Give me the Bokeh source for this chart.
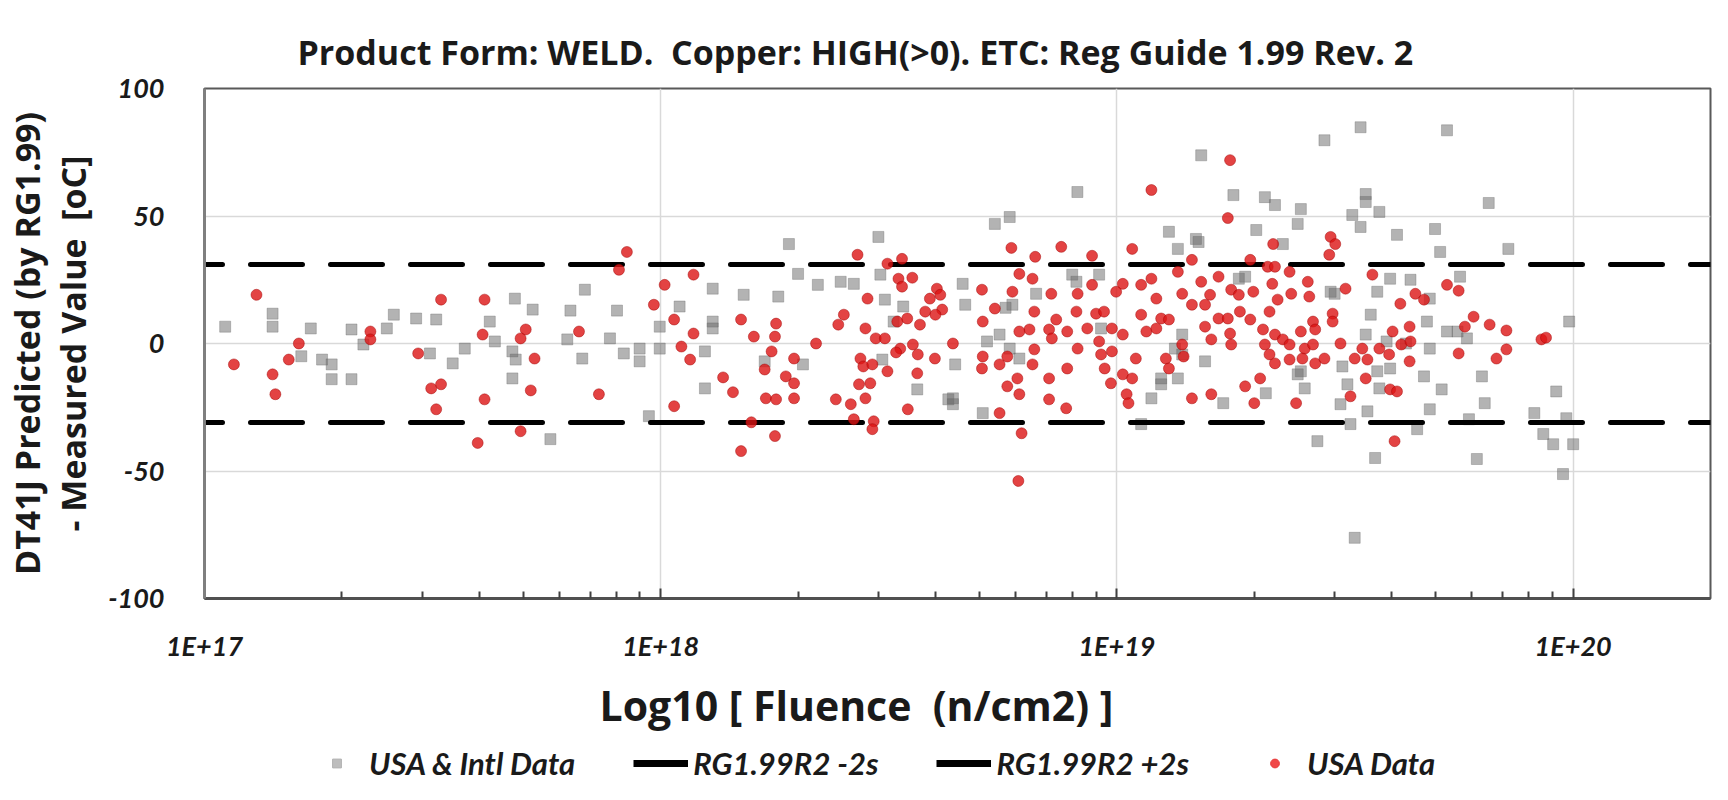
from bokeh.plotting import figure
from bokeh.layouts import column
from bokeh.models import (FixedTicker, CustomJSTickFormatter, Legend, LegendItem,
                          Title, Range1d)
from bokeh.embed import file_html
from bokeh.resources import INLINE

# ---------------- data ----------------
intl_fluence = [
    1.11e17, 1.41e17, 1.41e17, 1.71e17, 1.63e17, 1.81e17, 1.90e17, 1.90e17, 2.10e17, 2.10e17,
    2.23e17, 2.51e17, 2.60e17, 2.91e17, 3.22e17, 3.12e17, 3.50e17,
    3.72e17, 4.79e17, 5.24e17, 4.22e17, 4.33e17, 4.73e17, 4.81e17, 4.73e17, 6.82e17,
    6.34e17, 8.02e17, 6.24e17, 6.73e17, 7.74e17, 8.30e17, 8.99e17, 8.99e17, 5.73e17, 9.42e17,
    9.95e17, 9.95e17, 1.10e18, 1.25e18, 1.25e18,
    1.30e18, 1.30e18, 1.30e18, 1.52e18, 1.81e18, 1.91e18, 2.00e18, 1.69e18,
    2.05e18, 2.21e18, 2.48e18, 2.65e18, 3.00e18, 3.03e18, 3.10e18, 3.40e18, 3.24e18, 3.06e18,
    3.65e18, 4.27e18,
    8.19e18, 5.40e18, 5.82e18, 4.59e18, 4.65e18, 4.42e18, 4.37e18, 4.37e18, 5.08e18, 5.53e18,
    5.82e18, 6.11e18, 5.90e18, 7.98e18, 9.14e18, 9.23e18, 1.30e19, 1.49e19, 1.36e19, 1.36e19,
    1.19e19, 1.25e19, 1.39e19, 1.13e19, 1.53e19, 6.65e18, 5.70e18, 1.25e19, 1.34e19, 1.39e19,
    1.51e19, 5.19e18, 8.15e18,
    1.80e19, 2.11e19, 2.22e19, 2.53e19, 2.49e19, 2.85e19, 3.42e19, 5.29e19, 3.51e19,
    3.51e19, 3.28e19, 3.76e19, 3.42e19, 4.11e19, 4.98e19, 5.11e19, 2.02e19, 2.31e19,
    3.97e19, 4.40e19, 3.60e19, 3.51e19, 4.85e19, 4.78e19, 5.29e19, 4.85e19, 4.71e19, 5.15e19,
    4.85e19, 4.55e19, 3.97e19, 3.72e19, 3.76e19, 3.54e19, 3.25e19, 3.09e19, 3.20e19, 3.12e19,
    3.68e19, 2.75e19, 3.32e19, 2.12e19, 1.71e19, 2.58e19, 2.53e19, 1.56e19, 1.91e19, 3.00e19,
    4.30e19, 3.90e19, 1.85e19, 2.94e19, 2.49e19, 3.72e19,
    6.53e19, 7.21e19, 5.65e19, 5.58e19, 5.85e19, 9.80e19, 6.31e19, 6.40e19, 5.91e19,
    9.18e19, 8.22e19, 9.66e19, 8.60e19, 9.04e19, 1.00e20, 6.15e19, 9.50e19,
]
intl_delta = [
    6.6, 11.7, 6.6, 5.9, -5.0, -6.3, -8.2, -14.0, -14.0, 5.5,
    -0.4, 5.9, 11.3, 9.8, 9.4, -3.9, -7.8,
    -2.0, 17.6, 13.3, 8.6, 0.8, -3.1, -6.3, -13.7, 21.1,
    12.9, 12.9, 1.6, -5.9, 2.0, -3.9, -2.0, -7.0, -37.5, -28.5,
    6.6, -2.0, 14.5, -3.1, -17.6,
    21.5, 8.6, 5.9, 19.1, 18.4, 39.0, 27.3, -7.0,
    -8.2, 23.0, 24.2, 23.4, 41.8, 27.0, 17.2, 14.5, 8.6, -6.3,
    -18.0, -21.9,
    59.4, 46.9, 49.6, 23.4, 15.2, -8.2, -21.5, -23.8, -27.3, 3.5,
    -2.0, -5.9, 15.2, 27.0, 27.0, 5.9, 43.8, 41.0, 37.1, -13.7,
    -21.5, -16.0, 3.5, -31.6, 73.8, 19.5, 14.0, -13.7, -2.0, -4.3,
    39.8, 0.8, 24.2,
    58.2, 57.4, 54.3, 52.7, 46.9, 79.7, 84.8, 83.6, 58.6,
    55.5, 50.4, 51.6, 45.7, 42.6, 44.9, 35.9, 44.5, 39.0,
    25.4, 25.0, 11.3, 3.5, 17.6, 8.6, 4.7, -2.0, -12.9, -18.0,
    -25.8, -33.6, -9.8, -10.9, -17.6, -26.6, -31.6, -23.8, -16.0, -9.0,
    -44.9, -38.3, -76.2, -19.5, -23.4, -17.6, -10.9, -7.0, 26.2, 19.5,
    0.0, 0.8, 25.4, 20.3, -12.1, 20.3,
    55.1, 37.1, 26.2, 4.7, 2.0, 8.6, -12.9, -23.4, -29.7,
    -18.8, -27.3, -29.3, -35.5, -39.5, -39.5, -45.3, -51.2,
]

usa_fluence = [
    1.30e17, 1.16e17, 1.61e17, 1.53e17, 1.41e17, 1.43e17, 2.31e17, 2.31e17, 3.30e17, 2.94e17,
    3.14e17, 3.30e17, 3.22e17,
    4.11e17, 4.07e17, 5.06e17, 4.93e17, 5.29e17, 5.19e17, 4.11e17, 4.93e17, 3.97e17, 6.62e17,
    7.32e17, 8.43e17, 8.10e17, 1.02e18, 9.66e17, 1.07e18, 1.18e18, 1.11e18, 1.16e18, 1.18e18,
    1.07e18,
    1.50e18, 1.60e18, 1.79e18, 1.78e18, 1.75e18, 1.96e18, 1.69e18, 1.88e18, 1.96e18, 1.96e18,
    1.70e18, 1.79e18, 1.37e18, 1.44e18, 1.58e18, 1.78e18, 1.50e18, 2.19e18, 2.70e18, 3.14e18,
    3.38e18, 3.32e18, 3.56e18, 3.38e18, 2.84e18, 2.52e18, 2.45e18, 2.81e18, 2.96e18, 3.10e18,
    3.30e18, 3.47e18, 3.70e18, 3.80e18, 3.89e18, 4.03e18, 4.10e18, 4.14e18, 4.00e18, 3.35e18,
    3.57e18, 3.66e18, 3.28e18, 3.99e18, 4.37e18, 2.74e18, 2.78e18, 2.91e18, 3.14e18, 2.72e18,
    2.88e18, 2.81e18, 2.42e18, 2.61e18, 2.65e18, 2.93e18, 2.91e18, 3.65e18, 3.48e18,
    1.19e19, 5.87e18, 6.62e18, 7.55e18, 8.82e18, 1.08e19, 1.46e19, 5.06e18, 6.11e18, 6.53e18,
    5.90e18, 5.40e18, 5.08e18, 5.08e18, 5.06e18, 5.53e18, 5.75e18, 6.05e18, 5.75e18,
    6.11e18, 5.53e18, 6.18e18, 6.08e18, 6.59e18, 6.43e18, 6.11e18, 6.59e18, 6.53e18, 7.18e18,
    7.10e18, 7.36e18, 7.20e18, 7.78e18, 8.15e18, 8.20e18, 8.82e18, 8.61e18, 8.20e18, 7.10e18,
    7.10e18, 7.74e18, 7.78e18, 9.00e18, 9.37e18, 9.14e18, 9.23e18, 9.40e18, 9.75e18, 9.75e18,
    9.70e18, 9.96e18, 1.03e19, 1.03e19, 1.03e19, 1.05e19, 1.06e19, 1.08e19, 1.10e19, 1.13e19,
    1.13e19, 1.16e19, 1.22e19, 1.22e19, 1.19e19, 1.25e19, 1.30e19, 1.28e19, 1.30e19, 1.36e19,
    1.39e19, 1.40e19, 1.46e19, 1.39e19, 1.46e19,
    1.77e19, 1.75e19, 2.20e19, 2.94e19, 3.01e19, 2.92e19, 1.96e19, 1.67e19, 1.53e19, 1.60e19,
    1.78e19, 1.85e19, 1.99e19, 2.14e19, 2.22e19, 2.19e19, 2.25e19, 2.39e19, 2.41e19, 2.62e19,
    2.64e19, 3.17e19, 2.97e19, 2.97e19, 2.69e19, 2.72e19, 2.53e19, 2.16e19, 1.96e19, 1.86e19,
    1.67e19, 1.75e19, 1.56e19, 1.61e19, 1.78e19, 1.77e19, 2.09e19, 2.11e19, 2.22e19, 2.31e19,
    2.39e19, 2.58e19, 2.69e19, 2.55e19, 2.39e19, 2.22e19, 2.16e19, 2.72e19, 2.85e19, 3.09e19,
    3.32e19, 3.45e19, 3.54e19, 3.76e19, 3.95e19, 4.02e19, 4.20e19, 4.40e19, 4.38e19, 4.38e19,
    4.18e19, 4.51e19, 4.71e19, 3.63e19, 5.29e19, 3.51e19, 3.25e19, 3.97e19, 4.11e19, 4.06e19,
    2.06e19, 1.91e19, 2.00e19, 1.61e19, 2.47e19, 1.56e19,
    5.61e19, 6.05e19, 5.79e19, 6.56e19, 7.14e19, 7.14e19, 6.79e19, 5.61e19, 8.52e19, 8.72e19,
]
usa_delta = [
    19.1, -8.2, 0.0, -6.3, -12.1, -19.9, 4.7, 1.6, 17.2, -3.9,
    -17.6, -16.0, -25.8,
    17.2, 3.5, 5.5, 2.0, -5.9, -18.4, -21.9, -34.4, -39.0, 4.7,
    -19.9, 35.9, 28.9, 23.0, 15.2, 9.4, 3.9, -1.2, -6.3, 27.0,
    -24.6,
    9.4, 2.7, 7.8, 2.7, -3.1, -5.9, -10.2, -12.9, -15.6, -21.5,
    -21.5, -21.9, -13.3, -19.1, -30.9, -36.3, -42.2, 0.0, 34.8, 31.3,
    33.2, 25.4, 25.8, 22.3, 17.6, 11.3, 7.4, 5.9, 2.0, 2.0,
    8.6, 9.8, 7.4, 12.5, 17.6, 21.5, 19.1, 13.3, 11.3, -2.0,
    -0.4, -4.3, -3.5, -5.9, 0.0, -5.9, -9.0, -8.2, -10.9, -16.0,
    -15.6, -21.5, -21.9, -23.8, -29.7, -30.5, -33.6, -11.7, -25.8,
    60.2, 37.5, 34.0, 37.9, 34.4, 37.1, 32.8, 21.1, 27.3, 25.4,
    20.3, 13.7, 8.6, -5.1, -9.8, -8.2, -5.1, -13.7, -16.8,
    -19.9, -27.3, -35.2, -53.9, 12.5, 5.5, 4.7, -2.3, -8.2, 19.5,
    5.5, 9.4, 2.0, 4.7, 12.5, 19.5, 23.0, 5.9, -2.0, -13.7,
    -21.9, -25.4, -9.8, 11.7, 12.5, 0.8, -4.3, -9.8, 5.9, -3.1,
    -15.6, 20.3, 23.4, 3.5, -12.1, -19.9, -23.4, -13.7, -5.9, 11.3,
    23.0, 4.7, 17.6, 5.9, 25.4, 9.8, 9.4, -5.9, -9.8, 28.1,
    19.5, -5.1, -21.5, -0.4, 15.2,
    71.9, 49.2, 39.0, 41.8, 39.0, 34.8, 32.8, 26.2, 24.2, 19.1,
    21.1, 19.1, 20.3, 30.1, 30.1, 23.4, 17.2, 28.1, 19.5, 24.2,
    18.4, 21.5, 11.7, 8.6, 8.6, 5.5, 4.7, 12.5, 9.4, 12.5,
    9.8, 9.8, 6.6, 1.6, -0.4, 3.9, 5.5, -0.4, 3.5, 1.6,
    -0.4, -2.0, -0.4, -5.9, -6.3, -7.8, -4.3, -7.8, -5.9, 0.0,
    -5.9, -2.0, -6.3, -2.0, -4.3, 4.7, -0.4, 0.8, 6.6, -7.0,
    15.6, 19.5, 17.2, 27.0, 23.0, -13.7, -20.7, -18.0, -18.8, -38.3,
    -13.7, -16.8, -23.4, -19.9, -23.4, 15.2,
    20.7, 10.5, 6.6, 7.4, 5.1, -2.3, -5.9, -3.9, 1.6, 2.3,
]

band_fluence = [1e17, 2e20]
minus_2s = [-31, -31]
plus_2s = [31, 31]

major_ticks = [1e17, 1e18, 1e19, 1e20]
y_ticks = [-100, -50, 0, 50, 100]
legend_labels = ["USA & Intl Data", "RG1.99R2 -2s", "RG1.99R2 +2s", "USA Data"]

TXT = "Open Sans"
TICK = "Lato"
NB = "\u00a0"

GRAY = "#676767"
RED = "#dc1414"

# ---------------- main figure ----------------
p = figure(frame_width=1506, frame_height=510, x_axis_type="log",
           x_range=Range1d(1e17, 2e20), y_range=Range1d(-100, 100),
           output_backend="svg", toolbar_location=None,
           min_border_left=204, min_border_right=2, min_border_top=88,
           min_border_bottom=140, background_fill_color="white",
           border_fill_color="white")

p.outline_line_color = "#595959"
p.outline_line_width = 2

p.title.text = "Product Form: WELD." + NB + " Copper: HIGH(>0). ETC: Reg Guide 1.99 Rev. 2"
p.title.text_font = TXT
p.title.text_font_size = "34px"
p.title.text_font_style = "bold"
p.title.text_color = "#1a1a1a"
p.title.align = "left"
p.title.offset = 93
p.title.standoff = 28

xt = FixedTicker(ticks=major_ticks,
                 minor_ticks=[k * 10.0 ** e for e in (17, 18, 19) for k in range(2, 10)])
p.xaxis.ticker = xt
p.xgrid.ticker = FixedTicker(ticks=major_ticks)
p.xaxis.formatter = CustomJSTickFormatter(code="return '1E+' + Math.round(Math.log10(tick));")
p.xaxis.major_label_text_font = TICK
p.xaxis.major_label_text_font_size = "27px"
p.xaxis.major_label_text_font_style = "bold italic"
p.xaxis.major_label_text_color = "#1a1a1a"
p.xaxis.major_label_standoff = 30
p.xaxis.major_tick_in = 10
p.xaxis.major_tick_out = 0
p.xaxis.minor_tick_in = 7
p.xaxis.minor_tick_out = 0
p.xaxis.major_tick_line_color = "#404040"
p.xaxis.minor_tick_line_color = "#404040"
p.xaxis.major_tick_line_width = 2
p.xaxis.minor_tick_line_width = 2
p.xaxis.axis_line_color = "#505050"
p.xaxis.axis_line_width = 3

p.yaxis.ticker = FixedTicker(ticks=y_ticks)
p.ygrid.ticker = FixedTicker(ticks=y_ticks)
p.yaxis.formatter = CustomJSTickFormatter(code="return tick.toFixed(0);")
p.yaxis.major_label_text_font = TICK
p.yaxis.major_label_text_font_size = "27px"
p.yaxis.major_label_text_font_style = "bold italic"
p.yaxis.major_label_text_color = "#1a1a1a"
p.yaxis.major_label_standoff = 34
p.yaxis.major_tick_line_color = None
p.yaxis.minor_tick_line_color = None
p.yaxis.axis_line_color = "#7f7f7f"
p.yaxis.axis_line_width = 3
p.yaxis.axis_label = "DT41J Predicted (by RG1.99)\n- Measured Value" + NB + " [oC]"
p.yaxis.axis_label_text_font = TXT
p.yaxis.axis_label_text_font_size = "34px"
p.yaxis.axis_label_text_font_style = "bold"
p.yaxis.axis_label_text_color = "#1a1a1a"
p.yaxis.axis_label_text_line_height = 1.0
p.yaxis.axis_label_standoff = 9

p.xgrid.grid_line_color = "#d9d9d9"
p.ygrid.grid_line_color = "#d9d9d9"
p.xgrid.grid_line_width = 1.5
p.ygrid.grid_line_width = 1.5

xlabel = Title(text="Log10 [ Fluence" + NB + " (n/cm2) ]", align="left", offset=395,
               text_font=TXT, text_font_size="41px", text_font_style="bold",
               text_color="#1a1a1a", standoff=20)
p.add_layout(xlabel, "below")

# ---------------- glyphs ----------------
intl_style = dict(marker="square", size=11, fill_color=GRAY, fill_alpha=0.5,
                  line_color=GRAY, line_alpha=0.35)
usa_style = dict(marker="circle", size=11, fill_color=RED, fill_alpha=0.8,
                 line_color="#a00000", line_alpha=0.45)
band_style = dict(line_color="black", line_width=5)

p.scatter(intl_fluence, intl_delta, **intl_style)
p.line(band_fluence, minus_2s, line_dash="52 28", line_cap="round",
       line_dash_offset=34, **band_style)
p.line(band_fluence, plus_2s, line_dash="52 28", line_cap="round",
       line_dash_offset=34, **band_style)
p.scatter(usa_fluence, usa_delta, **usa_style)

# ---------------- legend strip (samples drawn off-range, only the legend shows) ----------------
lf = figure(frame_width=1506, frame_height=40, output_backend="svg", toolbar_location=None,
            x_axis_location=None, y_axis_location=None,
            min_border_left=204, min_border_right=2, min_border_top=0, min_border_bottom=0,
            x_range=Range1d(0, 1), y_range=Range1d(0, 1),
            background_fill_color="white", border_fill_color="white")
lf.outline_line_color = None
lf.xgrid.visible = False
lf.ygrid.visible = False
g1 = lf.scatter(intl_fluence, intl_delta, marker="square", size=11,
                fill_color="#bdbdbd", line_color="#b0b0b0")
g2 = lf.line(band_fluence, minus_2s, line_color="black", line_width=7)
g3 = lf.line(band_fluence, plus_2s, line_color="black", line_width=7)
g4 = lf.scatter(usa_fluence, usa_delta, marker="circle", size=9,
                fill_color="#f04848", line_color="#e83a3a")

legend = Legend(items=[LegendItem(label=t, renderers=[r]) for t, r in
                       zip(legend_labels, [g1, g2, g3, g4])],
                orientation="horizontal", location=(105, 0))
legend.label_text_font = TICK
legend.label_text_font_size = "31px"
legend.label_text_font_style = "bold italic"
legend.label_text_color = "#1a1a1a"
legend.glyph_width = 55
legend.glyph_height = 22
legend.label_standoff = 5
legend.spacing = 58
legend.padding = 0
legend.margin = 0
legend.border_line_color = None
legend.background_fill_alpha = 0
lf.add_layout(legend, "center")

page = column(p, lf, spacing=0)
open("out.html", "w").write(file_html(page, INLINE))
